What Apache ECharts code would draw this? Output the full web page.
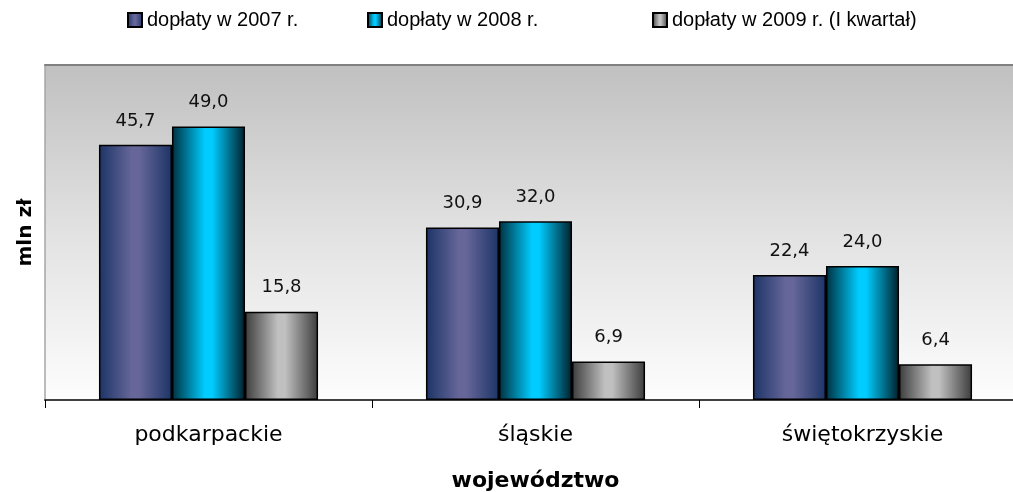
<!DOCTYPE html>
<html>
<head>
<meta charset="utf-8">
<script src="https://cdn.jsdelivr.net/npm/echarts@6/dist/echarts.min.js"></script>
<style>
  html, body { margin: 0; padding: 0; background: #fff; }
  #main { width: 1013px; height: 492px; }
</style>
</head>
<body>
<div id="main"></div>
<script>
var categories = ['podkarpackie', 'śląskie', 'świętokrzyskie'];
var seriesNames = ['dopłaty w 2007 r.', 'dopłaty w 2008 r.', 'dopłaty w 2009 r. (I kwartał)'];
var values2007 = [45.7, 30.9, 22.4];
var values2008 = [49.0, 32.0, 24.0];
var values2009 = [15.8, 6.9, 6.4];

var myChart = echarts.init(document.getElementById('main'));

function hGrad(edgeL, mid, edgeR) {
  return new echarts.graphic.LinearGradient(0, 0, 1, 0, [
    { offset: 0, color: edgeL },
    { offset: 0.45, color: mid },
    { offset: 0.55, color: mid },
    { offset: 1, color: edgeR }
  ]);
}

var colors = [
  hGrad('#1c3466', '#666699', '#1c3466'),
  hGrad('#00303f', '#00ccff', '#001f2a'),
  hGrad('#3c3c3c', '#c0c0c0', '#3c3c3c')
];

function fmt(p) {
  return p.value.toFixed(1).replace('.', ',');
}

function makeSeries(name, data, i) {
  return {
    name: name,
    type: 'bar',
    data: data,
    barGap: '0%',
    barCategoryGap: '33%',
    itemStyle: { color: colors[i], borderColor: '#000', borderWidth: 1.5 },
    label: {
      show: true,
      position: 'top',
      distance: 15,
      formatter: fmt,
      color: '#111',
      fontFamily: 'DejaVu Sans',
      fontSize: 18
    }
  };
}

function legendAt(left, name) {
  return {
    left: left,
    top: 5,
    data: [name],
    itemWidth: 14,
    itemHeight: 14,
    icon: 'rect',
    selectedMode: false,
    textStyle: { fontFamily: 'Liberation Sans', fontSize: 20, color: '#000' }
  };
}

var option = {
  animation: false,
  legend: [
    legendAt(122, seriesNames[0]),
    legendAt(362, seriesNames[1]),
    legendAt(647, seriesNames[2])
  ],
  grid: {
    left: 45,
    top: 65,
    right: -13,
    bottom: 92,
    outerBoundsMode: 'none',
    containLabel: false,
    show: true,
    borderWidth: 0,
    backgroundColor: new echarts.graphic.LinearGradient(0, 0, 0, 1, [
      { offset: 0, color: '#c0c0c0' },
      { offset: 0.5, color: '#e2e2e2' },
      { offset: 1, color: '#fdfdfd' }
    ])
  },
  xAxis: [{
    type: 'category',
    data: categories,
    axisLine: { lineStyle: { color: '#404040', width: 2 } },
    axisTick: { show: true, length: 8, lineStyle: { color: '#000' } },
    axisLabel: { margin: 24, color: '#000', fontFamily: 'DejaVu Sans', fontSize: 22 },
    name: 'województwo',
    nameLocation: 'middle',
    nameGap: 70,
    nameTextStyle: { fontFamily: 'DejaVu Sans', fontWeight: 'bold', fontSize: 22, color: '#000' }
  }, {
    type: 'category',
    position: 'top',
    data: categories,
    axisLine: { lineStyle: { color: '#808080', width: 2 } },
    axisTick: { show: false },
    axisLabel: { show: false }
  }],
  yAxis: {
    type: 'value',
    min: 0,
    max: 60,
    axisLine: { show: true, lineStyle: { color: '#a6a6a6', width: 1.5 } },
    axisTick: { show: false },
    axisLabel: { show: false },
    splitLine: { show: false },
    name: 'mln zł',
    nameLocation: 'middle',
    nameGap: 9,
    nameTextStyle: { fontFamily: 'DejaVu Sans', fontWeight: 'bold', fontSize: 20, color: '#000' }
  },
  series: [
    makeSeries(seriesNames[0], values2007, 0),
    makeSeries(seriesNames[1], values2008, 1),
    makeSeries(seriesNames[2], values2009, 2)
  ]
};

myChart.setOption(option);
</script>
</body>
</html>
